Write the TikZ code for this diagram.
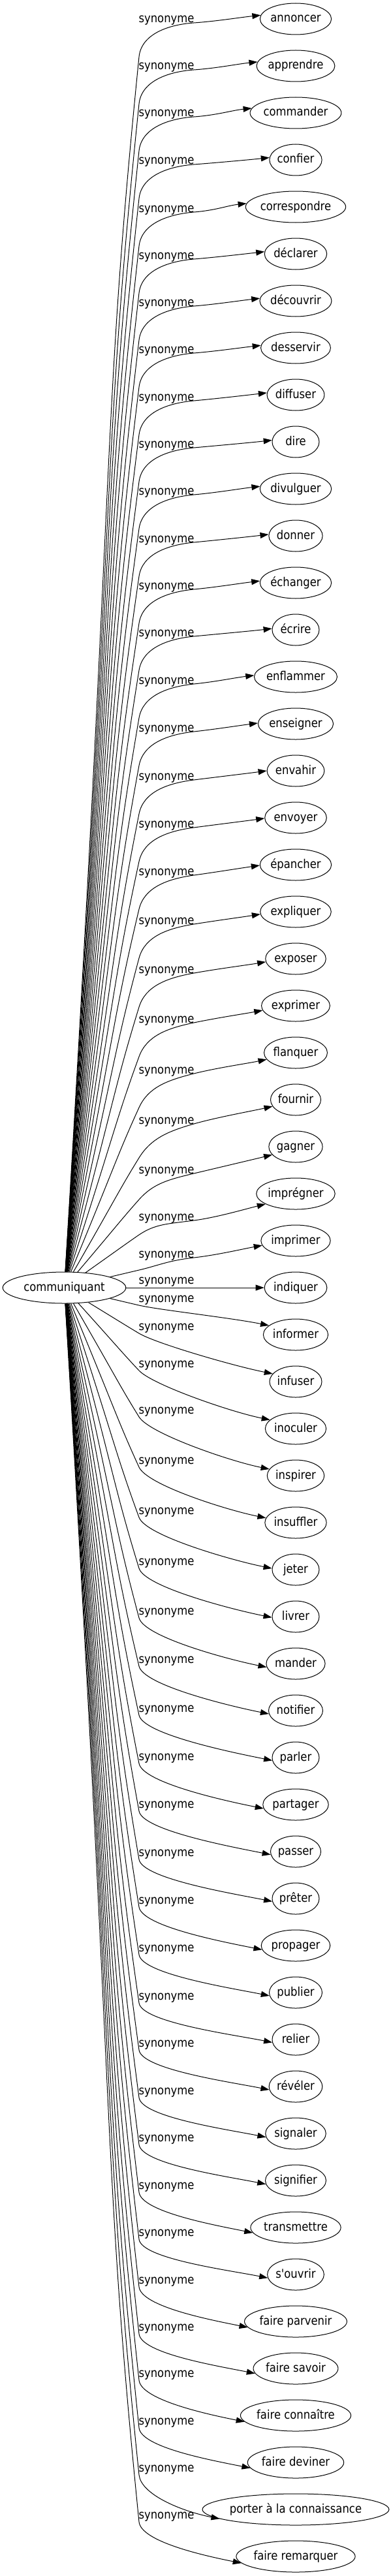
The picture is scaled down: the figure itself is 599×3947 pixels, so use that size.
\documentclass[tikz,border=0pt]{standalone}
\usepackage{fontspec}
\newfontfamily\synfont{DejaVu Sans}[FakeStretch=0.88]
\newfontfamily\timesmetric{Liberation Serif}
\usepackage{tikz}
\usetikzlibrary{shapes.geometric}
\usetikzlibrary{arrows.meta}
\usetikzlibrary{calc}
\newlength\synwd

\begin{document}
\begin{tikzpicture}[x=1pt,y=-1pt,
  every node/.style={font=\synfont\fontsize{18.67}{22}\selectfont,inner sep=0pt,text height=14pt,text depth=4pt},
  syn/.style={draw,ellipse,line width=1pt,minimum height=48pt},
  lbl/.style={anchor=center},
  edge/.style={line width=1pt,-{Triangle[length=13pt,width=9pt]}}]
\useasboundingbox (0,0) rectangle (599,3947);
\node[syn,minimum width=188.6pt] (c) at (98.5,1973) {communiquant};
\foreach \w/\o [count=\i] in {annoncer/1,apprendre/1,commander/1,confier/2,correspondre/3,déclarer/3,découvrir/3,desservir/3,diffuser/4,dire/4,divulguer/4,donner/5,échanger/5,écrire/5,enflammer/6,enseigner/7,envahir/9,envoyer/10,épancher/11,expliquer/14,exposer/17,exprimer/21,flanquer/27,fournir/32,gagner/36,imprégner/36,imprimer/21,indiquer/-11,informer/-55,infuser/-84,inoculer/-99,inspirer/-100,insuffler/-95,jeter/-90,livrer/-84,mander/-80,notifier/-78,parler/-75,partager/-73,passer/-72,prêter/-70,propager/-69,publier/-68,relier/-66,révéler/-66,signaler/-65,signifier/-65,transmettre/-64,s'ouvrir/-64,faire parvenir/-63,faire savoir/-63,faire connaître/-64,faire deviner/-63,porter à la connaissance/-63,faire remarquer/-63}{
  \pgfmathsetmacro\synty{29+72*(\i-1)}
  \pgfmathsetmacro\synly{\synty+\o}
  \settowidth\synwd{\timesmetric\fontsize{18.67}{22}\selectfont\w}
  \pgfmathsetmacro\synew{max(72,1.4142*(\synwd+21.33))}
  \node[syn,minimum width=\synew pt] (t\i) at (453,\synty) {\w};
  \node[lbl] (l\i) at (255,\synly) {synonyme};
  \ifnum\i<28
    \pgfmathsetmacro\edgeky{\synly+min(57,max(24,0.25*(1973-\synly)))}
    \pgfmathsetmacro\edgeL{1973-\edgeky}
    \pgfmathsetmacro\edger{(213-98.5+0.04*\edgeL)/\edgeL}
    \pgfmathsetmacro\edgeux{\edger/sqrt(1+\edger*\edger)}
    \pgfmathsetmacro\edgeuy{1/sqrt(1+\edger*\edger)}
    \pgfmathsetmacro\edgepy{\synly+5}
    \pgfmathsetmacro\edges{0.35*sqrt(84*84+(\edgeky-\edgepy)*(\edgeky-\edgepy))}
    \pgfmathsetmacro\edgesl{min(0.7*(\edgepy-\synty+4)/100,0.5*(\edgeky-\edgepy)/84)}
    \pgfmathsetmacro\edgeby{max(\edgeky-\edgeuy*\edges,\edgepy+40*\edgesl)}
    \pgfmathsetmacro\edgeang{180+atan((0.45*(\edgepy-\synty)-6)/(\synew/2))}
    \pgfmathsetmacro\edgesla{min(0.3,0.08+0.004*(\edgepy-\synty))}
    \draw[edge] (c) .. controls ({98.5+0.7*114.5},{1973-0.7*\edgeL}) and ({213-\edgeux*0.3*\edgeL},{\edgeky+\edgeuy*0.3*\edgeL}) .. (213,\edgeky)
      .. controls ({213+\edgeux*\edges},\edgeby) and (257,{\edgepy+40*\edgesl}) .. (297,\edgepy)
      .. controls (332,{\edgepy-35*\edgesl}) and ($(t\i.\edgeang)+(-30,{30*\edgesla})$) .. (t\i.\edgeang);
  \else\ifnum\i=28
    \draw[edge] (c) -- (t\i);
  \else
    \pgfmathsetmacro\edgepy{\synly+10}
    \pgfmathsetmacro\edgeL{\edgepy-1973}
    \pgfmathsetmacro\edger{(213-98.5+0.04*\edgeL)/\edgeL}
    \pgfmathsetmacro\edgeux{\edger/sqrt(1+\edger*\edger)}
    \pgfmathsetmacro\edgeuy{1/sqrt(1+\edger*\edger)}
    \pgfmathsetmacro\edgeang{180+atan(min(5,-12+max(0,\i-31)*3.4)/(\synew/2))}
    \draw[edge] (c) .. controls ({98.5+0.7*114.5},{1973+0.7*\edgeL}) and ({213-\edgeux*0.3*\edgeL},{\edgepy-\edgeuy*0.3*\edgeL}) .. (213,\edgepy)
      .. controls ({213+\edgeux*30},{\edgepy+\edgeuy*30}) and ($(t\i.\edgeang)+(-60,-12)$) .. (t\i.\edgeang);
  \fi\fi
}
\end{tikzpicture}
\end{document}
